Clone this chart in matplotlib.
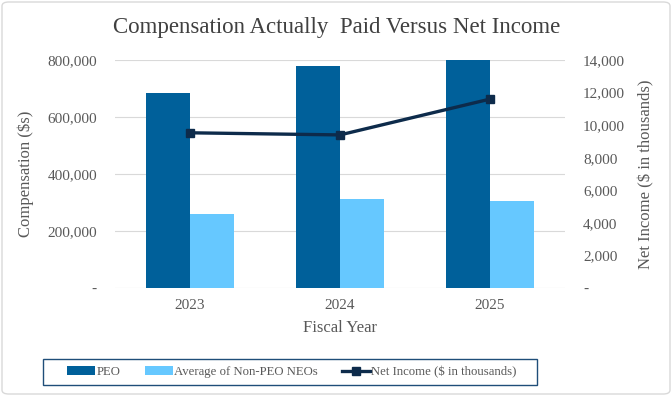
import numpy as np
import matplotlib
matplotlib.use("Agg")
import matplotlib.pyplot as plt
from matplotlib.patches import Rectangle, FancyBboxPatch
from matplotlib.ticker import FuncFormatter

years = ["2023", "2024", "2025"]
peo = [683000, 779000, 800000]
non_peo = [260000, 313000, 306000]
net_income = [9530, 9400, 11600]

plt.rcParams['font.family'] = ['Liberation Serif', 'DejaVu Serif']

c_peo = "#00609A"
c_non = "#66C8FF"
c_line = "#0D2B4B"
grey = "#595959"


def fmt(v, pos):
    if v == 0:
        return "-"
    return "{:,.0f}".format(v)


fig = plt.figure(figsize=(6.72, 3.96), dpi=100)
ax = fig.add_axes([115 / 672, 1 - 288 / 396, 450 / 672, 228 / 396])
ax2 = ax.twinx()

x = np.arange(len(years))
w = 0.293
ax.bar(x - w / 2, peo, w, color=c_peo, label="PEO", zorder=2)
ax.bar(x + w / 2, non_peo, w, color=c_non, label="Average of Non-PEO NEOs", zorder=2)
ax2.plot(x, net_income, color=c_line, lw=2.4, marker="s", markersize=5.5,
         label="Net Income ($ in thousands)", zorder=3)

ax.set_xlim(-0.5, 2.5)
ax.set_ylim(0, 800000)
ax.set_yticks(np.arange(0, 800001, 200000))
ax2.set_ylim(0, 14000)
ax2.set_yticks(np.arange(0, 14001, 2000))
ax.yaxis.set_major_formatter(FuncFormatter(fmt))
ax2.yaxis.set_major_formatter(FuncFormatter(fmt))
ax.set_xticks(x)
ax.set_xticklabels(years)

ax.grid(axis="y", color="#D9D9D9", lw=0.8, zorder=0)
ax.set_axisbelow(True)
for a in (ax, ax2):
    for s in a.spines.values():
        s.set_visible(False)
    a.tick_params(length=0, labelsize=11, colors=grey)
ax.tick_params(axis="y", pad=13)
ax2.tick_params(axis="y", pad=13)
ax.tick_params(axis="x", pad=8)

ax.set_xlabel("Fiscal Year", fontsize=12, color=grey, labelpad=6)
ax.set_ylabel("Compensation ($s)", fontsize=12, color=grey)
ax2.set_ylabel("Net Income ($ in thousands)", fontsize=12, color=grey)
ax.yaxis.set_label_coords(-0.18, 0.5)
ax2.yaxis.set_label_coords(1.163, 0.5)

fig.text(337 / 672, 1 - 28 / 396, "Compensation Actually  Paid Versus Net Income",
         ha="center", va="center", fontsize=16.5, color="#404040")

h1, l1 = ax.get_legend_handles_labels()
h2, l2 = ax2.get_legend_handles_labels()
fig.legend(h1 + h2, l1 + l2, loc="center", bbox_to_anchor=(292 / 672, 1 - 372 / 396),
           ncol=3, frameon=False, fontsize=9.2, handlelength=2.2, handletextpad=0.1,
           columnspacing=1.9, labelcolor=grey)
fig.patches.append(Rectangle((43 / 672, 1 - 385 / 396), 494 / 672, 26 / 396,
                             transform=fig.transFigure, fill=False,
                             edgecolor="#1F4E79", lw=1))
fig.patches.append(FancyBboxPatch((2 / 672, 2 / 396), 668 / 672, 392 / 396,
                                  boxstyle="round,pad=0,rounding_size=0.01",
                                  transform=fig.transFigure, fill=False,
                                  edgecolor="#D9D9D9", lw=1))

fig.savefig("out.png", dpi=100)
